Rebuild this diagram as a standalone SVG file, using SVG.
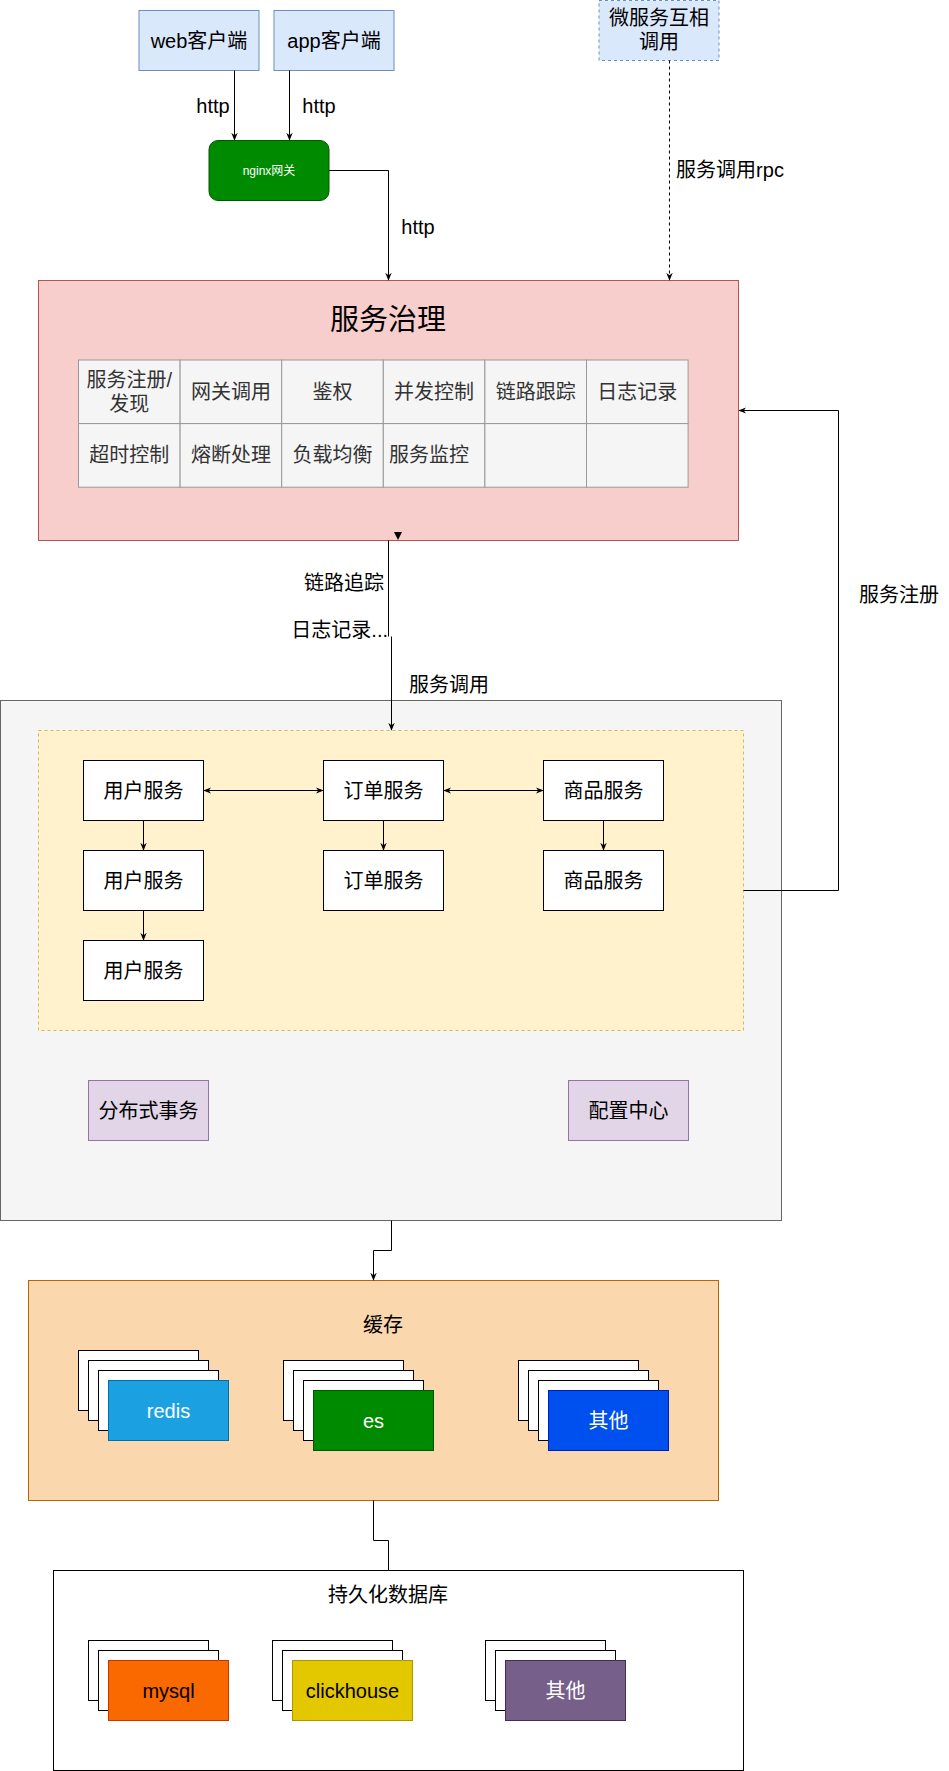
<svg xmlns="http://www.w3.org/2000/svg" width="949" height="1771" viewBox="0 0 949 1771">
<defs>
<style>
text{font-family:"Liberation Sans","Noto Sans CJK SC",sans-serif;font-size:20px;fill:#000;text-anchor:middle;dominant-baseline:central}
.blue{fill:#dae8fc;stroke:#6c8ebf;stroke-width:1}
.cell{fill:#f5f5f5;stroke:#999;stroke-width:1}
.cell-t{fill:#333}
.svc{fill:#fff;stroke:#000;stroke-width:1}
.frame{fill:#fff;stroke:#000;stroke-width:1}
.purple{fill:#e1d5e7;stroke:#9673a6;stroke-width:1}
.w{fill:#fff}
.edge{fill:none;stroke:#000;stroke-width:1}
</style>
<marker id="arr" viewBox="0 0 10 10" refX="9" refY="5" markerWidth="8" markerHeight="8" orient="auto-start-reverse" markerUnits="userSpaceOnUse">
<path d="M0,1 L10,5 L0,9 L3,5 Z" fill="#000"/>
</marker>
</defs>

<!-- containers -->
<g id="service-governance">
<rect x="38.5" y="280.5" width="700" height="260" fill="#f8cecc" stroke="#b85450"/>
<text x="388" y="320" style="font-size:29px">服务治理</text>
</g>
<g id="governance-table">
<rect class="cell" x="78.5" y="360" width="101.6" height="63.6"/>
<rect class="cell" x="180.1" y="360" width="101.6" height="63.6"/>
<rect class="cell" x="281.7" y="360" width="101.6" height="63.6"/>
<rect class="cell" x="383.3" y="360" width="101.6" height="63.6"/>
<rect class="cell" x="484.9" y="360" width="101.6" height="63.6"/>
<rect class="cell" x="586.5" y="360" width="101.6" height="63.6"/>
<rect class="cell" x="78.5" y="423.6" width="101.6" height="63.6"/>
<rect class="cell" x="180.1" y="423.6" width="101.6" height="63.6"/>
<rect class="cell" x="281.7" y="423.6" width="101.6" height="63.6"/>
<rect class="cell" x="383.3" y="423.6" width="101.6" height="63.6"/>
<rect class="cell" x="484.9" y="423.6" width="101.6" height="63.6"/>
<rect class="cell" x="586.5" y="423.6" width="101.6" height="63.6"/>
<text class="cell-t" x="129.3" y="380">服务注册/</text>
<text class="cell-t" x="129.3" y="404">发现</text>
<text class="cell-t" x="230.9" y="392">网关调用</text>
<text class="cell-t" x="332.5" y="392">鉴权</text>
<text class="cell-t" x="434.1" y="392">并发控制</text>
<text class="cell-t" x="535.7" y="392">链路跟踪</text>
<text class="cell-t" x="637.3" y="392">日志记录</text>
<text class="cell-t" x="129.3" y="455">超时控制</text>
<text class="cell-t" x="230.9" y="455">熔断处理</text>
<text class="cell-t" x="332.5" y="455">负载均衡</text>
<text class="cell-t" x="429" y="455">服务监控</text>
</g>

<g id="services-area">
<rect x="0.5" y="700.5" width="781" height="520" fill="#f5f5f5" stroke="#666"/>
</g>
<g id="microservices">
<rect x="38.5" y="730.5" width="705" height="300" fill="#fff2cc" stroke="#d6b656" stroke-dasharray="3 3"/>
</g>

<g id="web-client"><rect class="blue" x="139" y="10.5" width="120" height="60"/><text x="199" y="41">web客户端</text></g>
<g id="app-client"><rect class="blue" x="274" y="10.5" width="120" height="60"/><text x="334" y="41">app客户端</text></g>
<g id="rpc-client"><rect class="blue" x="599" y="0.5" width="120" height="60" stroke-dasharray="3 3"/><text x="659" y="18">微服务互相</text><text x="659" y="42">调用</text></g>
<g id="nginx"><rect x="209" y="140.5" width="120" height="60" rx="9" fill="#008a00" stroke="#005700"/><text class="w" x="269" y="171" style="font-size:12px">nginx网关</text></g>

<g id="user-1"><rect class="svc" x="83.5" y="760.5" width="120" height="60"/><text x="143.5" y="790.5">用户服务</text></g>
<g id="user-2"><rect class="svc" x="83.5" y="850.5" width="120" height="60"/><text x="143.5" y="880.5">用户服务</text></g>
<g id="user-3"><rect class="svc" x="83.5" y="940.5" width="120" height="60"/><text x="143.5" y="970.5">用户服务</text></g>
<g id="order-1"><rect class="svc" x="323.5" y="760.5" width="120" height="60"/><text x="383.5" y="790.5">订单服务</text></g>
<g id="order-2"><rect class="svc" x="323.5" y="850.5" width="120" height="60"/><text x="383.5" y="880.5">订单服务</text></g>
<g id="goods-1"><rect class="svc" x="543.5" y="760.5" width="120" height="60"/><text x="603.5" y="790.5">商品服务</text></g>
<g id="goods-2"><rect class="svc" x="543.5" y="850.5" width="120" height="60"/><text x="603.5" y="880.5">商品服务</text></g>

<g id="dist-tx"><rect class="purple" x="88.5" y="1080.5" width="120" height="60"/><text x="148.5" y="1110.5">分布式事务</text></g>
<g id="config-center"><rect class="purple" x="568.5" y="1080.5" width="120" height="60"/><text x="628.5" y="1110.5">配置中心</text></g>

<g id="cache">
<rect x="28.5" y="1280.5" width="690" height="220" fill="#fad7ac" stroke="#b46504"/>
<text x="383" y="1325">缓存</text>
</g>
<g id="redis">
<rect class="frame" x="78.5" y="1350.5" width="120" height="60"/>
<rect class="frame" x="88.5" y="1360.5" width="120" height="60"/>
<rect class="frame" x="98.5" y="1370.5" width="120" height="60"/>
<rect x="108.5" y="1380.5" width="120" height="60" fill="#1ba1e2" stroke="#006eaf"/>
<text class="w" x="168.5" y="1410.5">redis</text>
</g>
<g id="es">
<rect class="frame" x="283.5" y="1360.5" width="120" height="60"/>
<rect class="frame" x="293.5" y="1370.5" width="120" height="60"/>
<rect class="frame" x="303.5" y="1380.5" width="120" height="60"/>
<rect x="313.5" y="1390.5" width="120" height="60" fill="#008a00" stroke="#005700"/>
<text class="w" x="373.5" y="1420.5">es</text>
</g>
<g id="cache-other">
<rect class="frame" x="518.5" y="1360.5" width="120" height="60"/>
<rect class="frame" x="528.5" y="1370.5" width="120" height="60"/>
<rect class="frame" x="538.5" y="1380.5" width="120" height="60"/>
<rect x="548.5" y="1390.5" width="120" height="60" fill="#0050ef" stroke="#001dbc"/>
<text class="w" x="608.5" y="1420.5">其他</text>
</g>

<g id="database">
<rect x="53.5" y="1570.5" width="690" height="200" fill="#fff" stroke="#000"/>
<text x="388" y="1595">持久化数据库</text>
</g>
<g id="mysql">
<rect class="frame" x="88.5" y="1640.5" width="120" height="60"/>
<rect class="frame" x="98.5" y="1650.5" width="120" height="60"/>
<rect x="108.5" y="1660.5" width="120" height="60" fill="#fa6800" stroke="#c73500"/>
<text x="168.5" y="1690.5">mysql</text>
</g>
<g id="clickhouse">
<rect class="frame" x="272.5" y="1640.5" width="120" height="60"/>
<rect class="frame" x="282.5" y="1650.5" width="120" height="60"/>
<rect x="292.5" y="1660.5" width="120" height="60" fill="#e3c800" stroke="#b09500"/>
<text x="352.5" y="1690.5">clickhouse</text>
</g>
<g id="db-other">
<rect class="frame" x="485.5" y="1640.5" width="120" height="60"/>
<rect class="frame" x="495.5" y="1650.5" width="120" height="60"/>
<rect x="505.5" y="1660.5" width="120" height="60" fill="#76608a" stroke="#432d57"/>
<text class="w" x="565.5" y="1690.5">其他</text>
</g>

<g id="connectors">
<path class="edge" d="M234.5 70.5 V140" marker-end="url(#arr)"/>
<path class="edge" d="M289.5 70.5 V140" marker-end="url(#arr)"/>
<path class="edge" d="M329 170.5 H388.5 V280" marker-end="url(#arr)"/>
<path class="edge" d="M669.5 60.5 V280" stroke-dasharray="3 3" marker-end="url(#arr)"/>
<path d="M394 532 L402 532 L398 540 Z" fill="#000"/>
<path class="edge" d="M388.5 540.5 V636.5"/>
<path class="edge" d="M391.5 636.5 V730" marker-end="url(#arr)"/>
<path class="edge" d="M743.5 890.5 H838.5 V410.5 H739" marker-end="url(#arr)"/>
<path class="edge" d="M204 790.5 H323" marker-start="url(#arr)" marker-end="url(#arr)"/>
<path class="edge" d="M444 790.5 H543" marker-start="url(#arr)" marker-end="url(#arr)"/>
<path class="edge" d="M143.5 820.5 V850" marker-end="url(#arr)"/>
<path class="edge" d="M143.5 910.5 V940" marker-end="url(#arr)"/>
<path class="edge" d="M383.5 820.5 V850" marker-end="url(#arr)"/>
<path class="edge" d="M603.5 820.5 V850" marker-end="url(#arr)"/>
<path class="edge" d="M391.5 1220.5 V1250.5 H373.5 V1280" marker-end="url(#arr)"/>
<path class="edge" d="M373.5 1500.5 V1540.5 H388.5 V1570.5"/>
<text x="213" y="106">http</text>
<text x="319" y="106">http</text>
<text x="418" y="227">http</text>
<text x="730" y="170">服务调用rpc</text>
<text x="384" y="583" style="text-anchor:end">链路追踪</text>
<text x="388" y="630" style="text-anchor:end">日志记录...</text>
<text x="409" y="685" style="text-anchor:start">服务调用</text>
<text x="899" y="595">服务注册</text>
</g>
</svg>
